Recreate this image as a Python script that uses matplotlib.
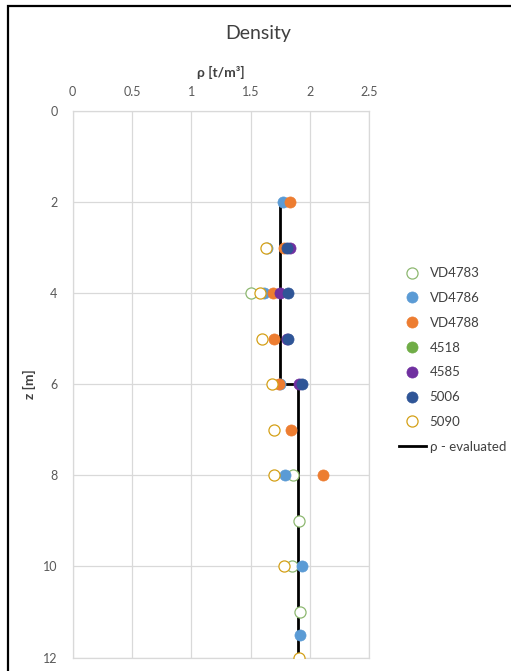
import matplotlib
matplotlib.use("Agg")
import matplotlib.pyplot as plt
from matplotlib.patches import Rectangle

plt.rcParams["font.family"] = ["Lato", "DejaVu Sans"]

# Density measurements per borehole: (rho [t/m3], depth z [m])
series_names = ["VD4783", "VD4786", "VD4788", "4518", "4585", "5006", "5090"]

rho_vd4783 = [1.50, 1.86, 1.91, 1.85, 1.92]
z_vd4783 = [4, 8, 9, 10, 11]

rho_vd4786 = [1.77, 1.64, 1.61, 1.745, 1.79, 1.93, 1.92]
z_vd4786 = [2, 3, 4, 6, 8, 10, 11.5]

rho_vd4788 = [1.83, 1.78, 1.69, 1.70, 1.74, 1.84, 2.11]
z_vd4788 = [2, 3, 4, 5, 6, 7, 8]

rho_4518 = []
z_4518 = []

rho_4585 = [1.83, 1.75, 1.81, 1.91]
z_4585 = [3, 4, 5, 6]

rho_5006 = [1.81, 1.82, 1.82, 1.93]
z_5006 = [3, 4, 5, 6]

rho_5090 = [1.63, 1.58, 1.60, 1.68, 1.70, 1.70, 1.78, 1.91]
z_5090 = [3, 4, 5, 6, 7, 8, 10, 12]

# Evaluated design profile
rho_eval = [1.75, 1.75, 1.90, 1.90]
z_eval = [2, 6, 6, 12]

x_ticks = [0, 0.5, 1, 1.5, 2, 2.5]
x_tick_labels = ["0", "0.5", "1", "1.5", "2", "2.5"]
z_ticks = [0, 2, 4, 6, 8, 10, 12]

data = [
    (rho_vd4783, z_vd4783, "#8DB870", False),
    (rho_vd4786, z_vd4786, "#5B9BD5", True),
    (rho_vd4788, z_vd4788, "#ED7D31", True),
    (rho_4518, z_4518, "#70AD47", True),
    (rho_4585, z_4585, "#7030A0", True),
    (rho_5006, z_5006, "#2F5597", True),
    (rho_5090, z_5090, "#D4A017", False),
]

fig = plt.figure(figsize=(5.11, 6.71), dpi=100)
ax = fig.add_axes([0.1423, 0.0201, 0.580, 0.8145])

# Chart frame
fig.patches.append(Rectangle((8 / 511, -0.1), 1.2, 1 - 6 / 671 + 0.1,
                             transform=fig.transFigure, fill=False,
                             edgecolor="black", linewidth=1.6, zorder=0))

handles = []
for (rho, z, color, filled), name in zip(data, series_names):
    h, = ax.plot(rho, z, linestyle="none", marker="o", markersize=8.0,
                 markerfacecolor=color if filled else "white",
                 markeredgecolor=color, markeredgewidth=0.9 if not filled else 0.5,
                 label=name, zorder=3)
    handles.append(h)

line, = ax.plot(rho_eval, z_eval, color="black", linewidth=2.0,
                label="ρ - evaluated", zorder=2)
handles.append(line)

ax.set_xlim(0, 2.5)
ax.set_ylim(12, 0)
ax.set_xticks(x_ticks)
ax.set_xticklabels(x_tick_labels)
ax.set_yticks(z_ticks)
ax.xaxis.tick_top()
ax.xaxis.set_label_position("top")
ax.tick_params(length=0, labelsize=9, colors="#595959")
ax.tick_params(axis="x", pad=9)
ax.tick_params(axis="y", pad=11)
ax.grid(True, color="#D9D9D9", linewidth=0.9)
ax.set_axisbelow(True)
for side in ax.spines:
    ax.spines[side].set_color("#D9D9D9")
    ax.spines[side].set_linewidth(0.9)

ax.set_xlabel("ρ [t/m³]", fontsize=10, fontweight="bold", color="#404040", labelpad=7)
ax.set_ylabel("z [m]", fontsize=10, fontweight="bold", color="#404040")
ax.yaxis.set_label_coords(-0.124, 0.5)
fig.text(0.505, 1 - 33 / 671, "Density", ha="center", va="center",
         fontsize=14, color="#404040")

leg = fig.legend(handles=handles, loc="upper left",
                 bbox_to_anchor=(394 / 511, 1 - 262 / 671),
                 frameon=False, fontsize=9.5, labelspacing=0.97,
                 handlelength=2.0, handletextpad=0.3, borderaxespad=0)
for t in leg.get_texts():
    t.set_color("#404040")

fig.savefig("out.png", dpi=100)
